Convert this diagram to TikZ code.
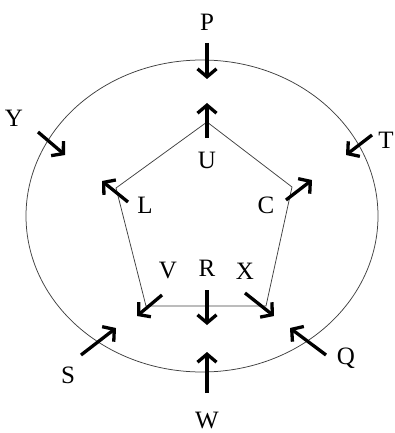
\documentclass[tikz,border=0pt]{standalone}
\usepackage{fontspec}
\setmainfont{Liberation Serif}
\usetikzlibrary{arrows.meta}
\begin{document}
\begin{tikzpicture}[x=1pt,y=-1pt,
  lbl/.style={font=\fontsize{25}{29}\selectfont, inner sep=0pt},
  dirarrow/.style={line width=3.3pt, -{Straight Barb[length=8pt,width=19pt,line width=3.3pt]}},
  thinline/.style={line width=0.75pt, draw=black!75}]
\useasboundingbox (0,0) rectangle (394,433);
% outer ellipse
\draw[thinline] (202,216) ellipse [x radius=176pt, y radius=156pt];
% pentagon
\coordinate (pu) at (207,122);
\coordinate (pl) at (116,188);
\coordinate (pc) at (292,187);
\coordinate (pv) at (146,306);
\coordinate (px) at (266,306);
\draw[thinline] (pu) -- (pl) -- (pv) -- (px) -- (pc) -- cycle;
% arrow end points
\coordinate (p1) at (207,43);  \coordinate (p2) at (207,79);
\coordinate (u1) at (207,138); \coordinate (u2) at (207,103);
\coordinate (y1) at (38,132);  \coordinate (y2) at (65,155);
\coordinate (t1) at (372,135); \coordinate (t2) at (346,155);
\coordinate (l1) at (128,202); \coordinate (l2) at (102,181);
\coordinate (c1) at (286,200); \coordinate (c2) at (312,180);
\coordinate (v1) at (162,295); \coordinate (v2) at (137,316);
\coordinate (r1) at (207,290); \coordinate (r2) at (207,325);
\coordinate (x1) at (245,293); \coordinate (x2) at (274,316);
\coordinate (s1) at (81,355);  \coordinate (s2) at (116,328);
\coordinate (w1) at (207,393); \coordinate (w2) at (207,352);
\coordinate (q1) at (326,355); \coordinate (q2) at (290,328);
\foreach \a in {p,u,y,t,l,c,v,r,x,s,w,q}{
  \draw[dirarrow] (\a1) -- (\a2);
}
% labels
\node[lbl] (P) at (207,22) {P};
\node[lbl] (U) at (207,160) {U};
\node[lbl] (Y) at (14,118) {Y};
\node[lbl] (T) at (386,140) {T};
\node[lbl] (L) at (145,205) {L};
\node[lbl] (C) at (266,205) {C};
\node[lbl] (V) at (168,271) {V};
\node[lbl] (R) at (207,268) {R};
\node[lbl] (X) at (245,271) {X};
\node[lbl] (S) at (68,375) {S};
\node[lbl] (W) at (207,420) {W};
\node[lbl] (Q) at (346,358) {Q};
\end{tikzpicture}
\end{document}
